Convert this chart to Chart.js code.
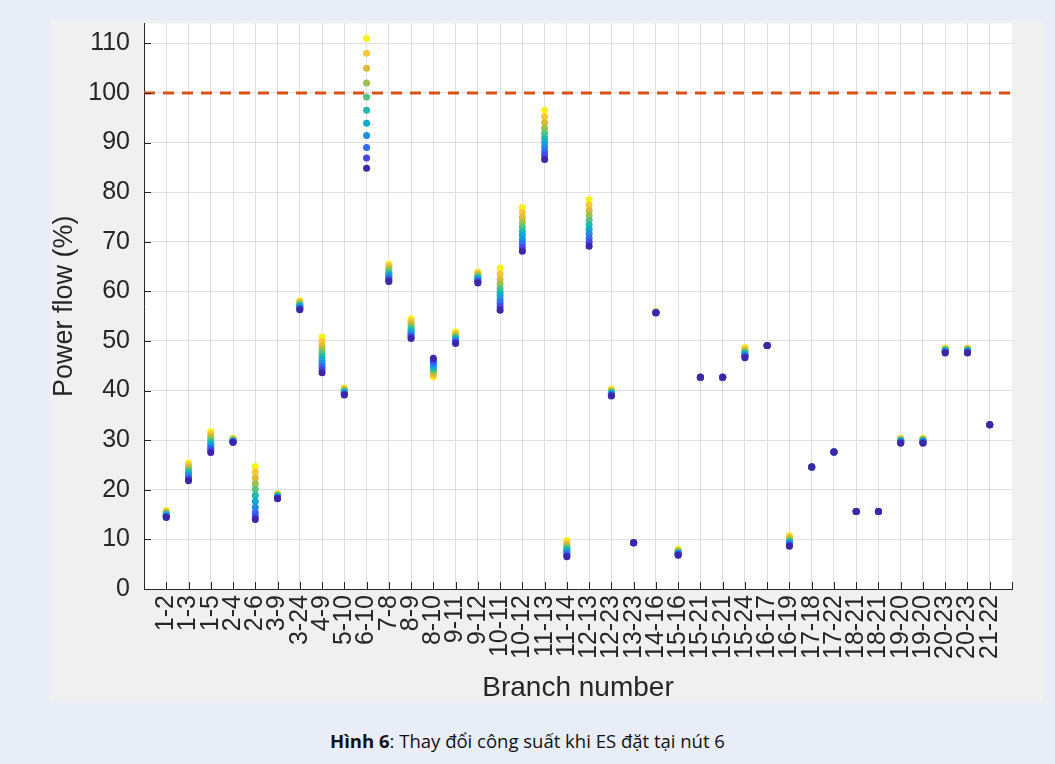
<!DOCTYPE html>
<html>
<head>
<meta charset="utf-8">
<script src="https://cdn.jsdelivr.net/npm/chart.js@4/dist/chart.umd.min.js"></script>
<style>
  html, body { margin: 0; padding: 0; }
  body { width: 1055px; height: 764px; background: #e8edf7; position: relative; overflow: hidden; }
  #fig { position: absolute; left: 50px; top: 20px; width: 993px; height: 682px; background: #f0f0f0; }
  #caption { position: absolute; left: 0; width: 1055px; top: 728px; text-align: center;
    font-family: "Open Sans", "Noto Sans", sans-serif; font-size: 18.5px; color: #111; }
</style>
</head>
<body>
<div id="fig"><canvas id="flowChart"></canvas></div>
<div id="caption"><b>Hình 6</b>: Thay đổi công suất khi ES đặt tại nút 6</div>
<script>
// branch names on the x axis (positions 1..38)
const branches = ["1-2","1-3","1-5","2-4","2-6","3-9","3-24","4-9","5-10","6-10",
  "7-8","8-9","8-10","9-11","9-12","10-11","10-12","11-13","11-14","12-13",
  "12-23","13-23","14-16","15-16","15-21","15-21","15-24","16-17","16-19","17-18",
  "17-22","18-21","18-21","19-20","19-20","20-23","20-23","21-22"];

// power flow (%) for each of the 11 cases, one value per branch
const s1  = [14.4,21.8,27.5,29.6,14.0,18.2,56.3,43.6,39.1,84.8,62.0,50.5,46.5,49.5,61.7,56.2,68.1,86.6,6.5,69.1,38.9,9.3,55.7,6.8,42.7,42.7,46.6,49.1,8.6,24.6,27.6,15.6,15.6,29.4,29.4,47.6,47.6,33.1];
const s2  = [14.5,22.1,27.9,29.6,14.6,18.3,56.4,44.2,39.2,86.9,62.3,50.8,46.1,49.7,61.9,56.9,68.8,87.4,6.7,69.9,39.0,9.3,55.7,6.9,42.7,42.7,46.8,49.1,8.8,24.6,27.6,15.6,15.6,29.5,29.5,47.7,47.7,33.1];
const s3  = [14.6,22.4,28.3,29.7,15.4,18.4,56.6,44.8,39.3,89.0,62.6,51.1,45.8,49.9,62.1,57.6,69.6,88.2,7.0,70.7,39.1,9.3,55.7,7.0,42.7,42.7,46.9,49.1,8.9,24.6,27.6,15.6,15.6,29.6,29.6,47.8,47.8,33.1];
const s4  = [14.7,22.8,28.7,29.7,16.5,18.5,56.8,45.5,39.5,91.4,62.9,51.5,45.4,50.1,62.3,58.3,70.4,89.1,7.3,71.6,39.2,9.3,55.7,7.1,42.7,42.7,47.1,49.1,9.1,24.6,27.6,15.6,15.6,29.7,29.7,47.9,47.9,33.1];
const s5  = [14.8,23.1,29.1,29.8,17.7,18.6,57.0,46.1,39.6,93.9,63.2,51.8,45.0,50.3,62.5,59.1,71.3,90.0,7.6,72.5,39.4,9.3,55.7,7.2,42.7,42.7,47.3,49.1,9.3,24.6,27.6,15.6,15.6,29.8,29.8,48.0,48.0,33.1];
const s6  = [15.0,23.5,29.5,29.9,18.9,18.7,57.1,46.8,39.7,96.5,63.5,52.2,44.6,50.5,62.7,59.8,72.1,90.9,7.9,73.4,39.5,9.3,55.7,7.3,42.7,42.7,47.5,49.1,9.5,24.6,27.6,15.6,15.6,29.9,29.9,48.1,48.1,33.1];
const s7  = [15.1,23.8,29.9,30.0,20.1,18.8,57.3,47.5,39.9,99.2,63.9,52.6,44.3,50.7,62.9,60.6,73.0,91.9,8.2,74.3,39.6,9.3,55.8,7.4,42.7,42.7,47.7,49.1,9.7,24.6,27.6,15.6,15.6,30.0,30.0,48.2,48.2,33.1];
const s8  = [15.3,24.2,30.4,30.1,21.2,18.9,57.5,48.2,40.0,102.0,64.3,53.0,43.9,51.0,63.2,61.5,73.9,92.9,8.5,75.3,39.8,9.3,55.8,7.5,42.7,42.7,47.9,49.1,9.9,24.6,27.6,15.6,15.6,30.1,30.1,48.3,48.3,33.1];
const s9  = [15.4,24.6,30.8,30.2,22.4,19.0,57.7,49.0,40.2,105.0,64.7,53.5,43.5,51.2,63.4,62.4,74.9,94.0,8.9,76.3,39.9,9.3,55.8,7.7,42.7,42.7,48.1,49.1,10.2,24.6,27.6,15.6,15.6,30.2,30.2,48.4,48.4,33.1];
const s10 = [15.6,25.0,31.2,30.3,23.6,19.1,57.9,49.9,40.3,108.0,65.1,54.0,43.1,51.5,63.7,63.5,75.9,95.2,9.3,77.4,40.1,9.3,55.9,7.8,42.7,42.7,48.4,49.1,10.5,24.6,27.6,15.6,15.6,30.3,30.3,48.5,48.5,33.1];
const s11 = [15.8,25.4,31.7,30.4,24.7,19.2,58.1,50.8,40.5,111.0,65.5,54.5,42.8,51.8,63.9,64.7,76.9,96.5,9.8,78.5,40.3,9.3,55.9,8.0,42.7,42.7,48.7,49.1,10.8,24.6,27.6,15.6,15.6,30.4,30.4,48.6,48.6,33.1];

const limitValue = 100;     // dashed limit line
const yTicks = [0,10,20,30,40,50,60,70,80,90,100,110];

// parula-like colours, case 1 (blue) -> case 11 (yellow)
const caseColors = ["#3e26a8","#4545e6","#2f6cf4","#1f8fe3","#10aad2","#1dbcae","#55c57f",
  "#9cc24c","#dcbb36","#fbc73a","#f5f316"];

const series = [s1, s2, s3, s4, s5, s6, s7, s8, s9, s10, s11];
const font = "'Liberation Sans', Arial, sans-serif";
const ink = "#262626";

const datasets = [{
  type: "line",
  data: [{ x: 0, y: limitValue }, { x: branches.length + 1, y: limitValue }],
  borderColor: "#d95319",
  borderWidth: 3,
  borderDash: [11, 8],
  pointRadius: 0,
  fill: false
}];
series.forEach((vals, k) => {
  datasets.push({
    data: vals.map((v, i) => ({ x: i + 1, y: v })),
    backgroundColor: caseColors[k],
    borderWidth: 0,
    pointRadius: 3.5,
    pointHoverRadius: 3.5
  });
});

// white plot box + inward MATLAB style tick marks
const boxPlugin = {
  id: "box",
  beforeDraw(chart) {
    const a = chart.chartArea, c = chart.ctx;
    c.save();
    c.fillStyle = "#ffffff";
    c.fillRect(a.left, a.top, a.right - a.left, a.bottom - a.top);
    c.restore();
  },
  afterDatasetsDraw(chart) {
    const a = chart.chartArea, c = chart.ctx;
    const xs = chart.scales.x, ys = chart.scales.y;
    c.save();
    c.strokeStyle = ink;
    c.lineWidth = 1;
    c.beginPath();
    yTicks.forEach(t => {
      const py = Math.round(ys.getPixelForValue(t)) + 0.5;
      c.moveTo(a.left, py); c.lineTo(a.left + 7, py);
    });
    for (let i = 0; i <= branches.length + 1; i++) {
      const px = Math.round(xs.getPixelForValue(i)) + 0.5;
      c.moveTo(px, a.bottom); c.lineTo(px, a.bottom - 7);
    }
    c.stroke();
    c.restore();
  }
};

new Chart(document.getElementById("flowChart"), {
  type: "scatter",
  data: { datasets },
  plugins: [boxPlugin],
  options: {
    responsive: true,
    maintainAspectRatio: false,
    animation: false,
    layout: { padding: { top: 1, right: 31, left: 0, bottom: 0 } },
    plugins: { legend: { display: false }, tooltip: { enabled: false } },
    scales: {
      x: {
        type: "linear",
        min: 0,
        max: branches.length + 1,
        afterFit(scale) {
          scale.height = 113;
          scale.paddingLeft = 0; scale.paddingRight = 0;
          scale.paddingTop = 0; scale.paddingBottom = 0;
        },
        afterBuildTicks(scale) {
          scale.ticks = [];
          for (let i = 0; i <= branches.length + 1; i++) scale.ticks.push({ value: i });
        },
        ticks: {
          autoSkip: false,
          maxRotation: 90,
          minRotation: 90,
          padding: 6,
          color: ink,
          font: { family: font, size: 25 },
          callback: v => branches[v - 1] || ""
        },
        grid: {
          drawTicks: false,
          color: ctx => (ctx.tick && ctx.tick.value > 0 && ctx.tick.value <= branches.length) ? "#dfdfdf" : "rgba(0,0,0,0)"
        },
        border: { color: ink, width: 1 },
        title: {
          display: true,
          text: "Branch number",
          color: ink,
          font: { family: font, size: 28, lineHeight: 1 },
          padding: { top: 0, bottom: 0 }
        }
      },
      y: {
        min: 0,
        max: 114,
        afterFit(scale) {
          scale.width = 94;
          scale.paddingTop = 0; scale.paddingBottom = 0;
          scale.paddingLeft = 0; scale.paddingRight = 0;
        },
        ticks: {
          stepSize: 10,
          includeBounds: false,
          padding: 14,
          color: ink,
          font: { family: font, size: 25 }
        },
        grid: {
          drawTicks: false,
          color: ctx => (ctx.tick && ctx.tick.value > 0) ? "#dfdfdf" : "rgba(0,0,0,0)"
        },
        border: { color: ink, width: 1 },
        title: {
          display: true,
          text: "Power flow (%)",
          color: ink,
          font: { family: font, size: 27, lineHeight: 1 },
          padding: { top: 1, bottom: 0 }
        }
      }
    }
  }
});
</script>
</body>
</html>
